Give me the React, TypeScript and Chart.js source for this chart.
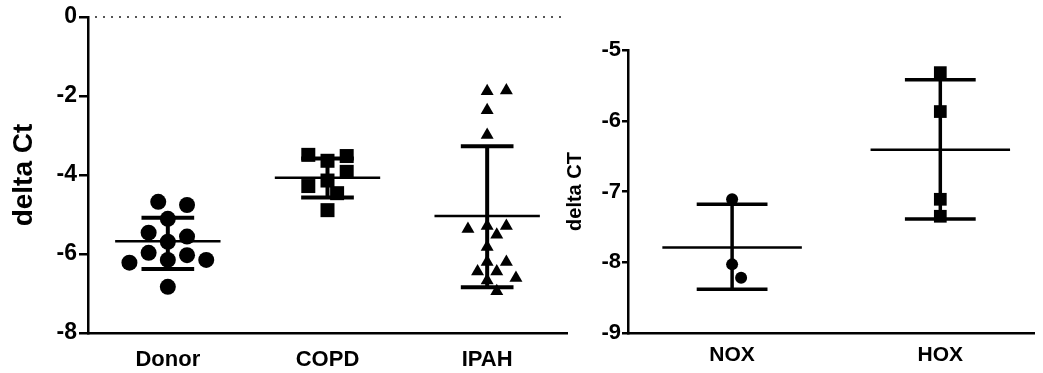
import React, { useEffect, useRef } from 'react';
import { Chart, registerables } from 'chart.js';

Chart.register(...registerables);

const FONT = "'Liberation Sans', Arial, Helvetica, sans-serif";

// ---------- Left panel data ----------
const leftCategories = ['Donor', 'COPD', 'IPAH'];
const donorValues = [-4.68, -4.76, -5.11, -5.46, -5.56, -5.69, -5.97, -6.03, -6.15, -6.15, -6.22, -6.83];
const copdValues = [-3.49, -3.52, -3.64, -3.92, -4.14, -4.28, -4.46, -4.89];
const ipahValues = [-1.86, -1.88, -2.36, -2.99, -5.29, -5.29, -5.37, -5.51, -5.82, -6.2, -6.2, -6.44, -6.44, -6.61, -6.67, -6.94];
const leftMeans = [-5.68, -4.07, -5.04];
const leftUpper = [-5.08, -3.58, -3.27];
const leftLower = [-6.38, -4.57, -6.84];
const leftYMin = -8;
const leftYMax = 0;
const leftYStep = 2;
const leftReferenceValue = 0;

// ---------- Right panel data ----------
const rightCategories = ['NOX', 'HOX'];
const noxValues = [-7.11, -8.03, -8.22];
const hoxValues = [-5.32, -5.87, -7.11, -7.35];
const rightMeans = [-7.79, -6.41];
const rightUpper = [-7.18, -5.42];
const rightLower = [-8.38, -7.39];
const rightYMin = -9;
const rightYMax = -5;
const rightYStep = 1;

type SummaryCfg = {
  means: number[];
  upper: number[];
  lower: number[];
  meanHalf: number;
  capHalf: number;
  meanWidth: number;
  stemWidth: number;
  capWidth: number;
  zero?: { value: number; startGap: number; dash: number[]; width: number; color: string };
};

function makeSummaryPlugin(cfg: SummaryCfg) {
  return {
    id: 'summaryBars',
    afterDatasetsDraw(chart: any) {
      const { ctx, chartArea } = chart;
      const x = chart.scales.x;
      const y = chart.scales.y;
      ctx.save();
      ctx.strokeStyle = '#000';
      ctx.lineCap = 'butt';
      if (cfg.zero) {
        const z = cfg.zero;
        const py = y.getPixelForValue(z.value);
        ctx.save();
        ctx.setLineDash(z.dash);
        ctx.lineWidth = z.width;
        ctx.strokeStyle = z.color;
        ctx.beginPath();
        ctx.moveTo(chartArea.left + z.startGap, py);
        ctx.lineTo(chartArea.right, py);
        ctx.stroke();
        ctx.restore();
      }
      const unit = x.getPixelForValue(1) - x.getPixelForValue(0);
      const line = (x1: number, y1: number, x2: number, y2: number, w: number) => {
        ctx.lineWidth = w;
        ctx.beginPath();
        ctx.moveTo(x1, y1);
        ctx.lineTo(x2, y2);
        ctx.stroke();
      };
      cfg.means.forEach((m, i) => {
        const cx = x.getPixelForValue(i);
        const mh = unit * cfg.meanHalf;
        const ch = unit * cfg.capHalf;
        const pm = y.getPixelForValue(m);
        const pu = y.getPixelForValue(cfg.upper[i]);
        const pl = y.getPixelForValue(cfg.lower[i]);
        line(cx - mh, pm, cx + mh, pm, cfg.meanWidth);
        line(cx, pu, cx, pl, cfg.stemWidth);
        line(cx - ch, pu, cx + ch, pu, cfg.capWidth);
        line(cx - ch, pl, cx + ch, pl, cfg.capWidth);
      });
      ctx.restore();
    },
  };
}

// simple beeswarm: points nearest the group mean are placed first, each at the
// nearest free lane that does not collide with already placed markers
function swarmOffsets(values: number[], center: number, yScale: any, collide: number, step: number): number[] {
  const order = values.map((_, i) => i).sort((a, b) => Math.abs(values[a] - center) - Math.abs(values[b] - center));
  const placed: { x: number; y: number }[] = [];
  const out = new Array(values.length).fill(0);
  for (const idx of order) {
    const py = yScale.getPixelForValue(values[idx]);
    let done = false;
    for (let k = 0; k < 60 && !done; k++) {
      const cands = k === 0 ? [0] : [k * step, -k * step];
      for (const c of cands) {
        if (placed.every((p) => Math.hypot(p.x - c, p.y - py) >= collide)) {
          out[idx] = c;
          placed.push({ x: c, y: py });
          done = true;
          break;
        }
      }
    }
  }
  return out;
}

type GroupSpec = { values: number[]; style: string; radius: number; collide: number; step: number };

function buildChart(
  canvas: HTMLCanvasElement,
  opts: {
    categories: string[];
    groups: GroupSpec[];
    means: number[];
    xMax: number;
    yMin: number;
    yMax: number;
    yStep: number;
    yTitle: string;
    titleSize: number;
    titlePad: number;
    tickSize: number;
    labelSize: number;
    labelPad: number;
    yAxisWidth: number;
    padTop: number;
    padRight: number;
    tickLen: number;
    tickPad: number;
    lineW: number;
    plugin: any;
  }
) {
  const datasets = opts.groups.map((g, i) => ({
    data: g.values.map((v) => ({ x: i, y: v })),
    pointStyle: g.style,
    pointRadius: g.radius,
    pointHoverRadius: g.radius,
    backgroundColor: '#000',
    borderColor: '#000',
    borderWidth: 0,
    showLine: false,
  }));
  const chart = new Chart(canvas, {
    type: 'scatter',
    data: { datasets },
    plugins: [opts.plugin],
    options: {
      animation: false,
      responsive: false,
      events: [],
      devicePixelRatio: 1,
      layout: { padding: { top: opts.padTop, right: opts.padRight, left: 0, bottom: 0 } },
      plugins: { legend: { display: false }, tooltip: { enabled: false } },
      scales: {
        x: {
          type: 'linear',
          min: -0.5,
          max: opts.xMax,
          afterBuildTicks: (scale: any) => {
            scale.ticks = opts.categories.map((_, i) => ({ value: i }));
          },
          afterFit: (scale: any) => {
            scale.height = 40;
            scale.paddingLeft = 0;
            scale.paddingRight = 0;
          },
          grid: { display: false, drawTicks: false },
          border: { display: true, color: '#000', width: opts.lineW },
          ticks: {
            autoSkip: false,
            maxRotation: 0,
            padding: opts.labelPad,
            color: '#000',
            font: { family: FONT, size: opts.labelSize, weight: 'bold' },
            callback: (value: any) => opts.categories[Math.round(value)] ?? '',
          },
        },
        y: {
          type: 'linear',
          min: opts.yMin,
          max: opts.yMax,
          afterFit: (scale: any) => {
            scale.width = opts.yAxisWidth;
            scale.paddingTop = 0;
            scale.paddingBottom = 0;
          },
          grid: {
            display: true,
            drawOnChartArea: false,
            drawTicks: true,
            tickLength: opts.tickLen,
            color: '#000',
            lineWidth: opts.lineW,
          },
          border: { display: true, color: '#000', width: opts.lineW },
          ticks: {
            stepSize: opts.yStep,
            padding: opts.tickPad,
            color: '#000',
            font: { family: FONT, size: opts.tickSize, weight: 'bold' },
          },
          title: {
            display: true,
            text: opts.yTitle,
            color: '#000',
            padding: { top: opts.titlePad, bottom: 0 },
            font: { family: FONT, size: opts.titleSize, weight: 'bold' },
          },
        },
      },
    } as any,
  });

  // second pass: spread overlapping markers horizontally using the laid-out scales
  const xs = chart.scales.x;
  const ys = chart.scales.y;
  const unit = xs.getPixelForValue(1) - xs.getPixelForValue(0);
  opts.groups.forEach((g, i) => {
    const offs = swarmOffsets(g.values, opts.means[i], ys, g.collide, g.step);
    (chart.data.datasets[i] as any).data = g.values.map((v, j) => ({ x: i + offs[j] / unit, y: v }));
  });
  chart.update('none');
  return chart;
}

export default function App() {
  const leftRef = useRef<HTMLCanvasElement>(null);
  const rightRef = useRef<HTMLCanvasElement>(null);

  useEffect(() => {
    if (!leftRef.current || !rightRef.current) return;
    const left = buildChart(leftRef.current, {
      categories: leftCategories,
      groups: [
        { values: donorValues, style: 'circle', radius: 8, collide: 17, step: 9.6 },
        { values: copdValues, style: 'rect', radius: 9.9, collide: 14.5, step: 9.6 },
        { values: ipahValues, style: 'triangle', radius: 7.5, collide: 12, step: 9.6 },
      ],
      means: leftMeans,
      xMax: 2.5,
      yMin: leftYMin,
      yMax: leftYMax,
      yStep: leftYStep,
      yTitle: 'delta Ct',
      titleSize: 28,
      titlePad: 7,
      tickSize: 23,
      labelSize: 22,
      labelPad: 14,
      yAxisWidth: 88,
      padTop: 17,
      padRight: 13,
      tickLen: 9,
      tickPad: 2,
      lineW: 2.5,
      plugin: makeSummaryPlugin({
        means: leftMeans,
        upper: leftUpper,
        lower: leftLower,
        meanHalf: 0.33,
        capHalf: 0.165,
        meanWidth: 2.5,
        stemWidth: 4,
        capWidth: 4,
        zero: { value: leftReferenceValue, startGap: 7, dash: [2, 6], width: 2, color: '#555' },
      }),
    });
    const right = buildChart(rightRef.current, {
      categories: rightCategories,
      groups: [
        { values: noxValues, style: 'circle', radius: 6, collide: 16, step: 9 },
        { values: hoxValues, style: 'rect', radius: 9, collide: 14, step: 9 },
      ],
      means: rightMeans,
      xMax: 1.45,
      yMin: rightYMin,
      yMax: rightYMax,
      yStep: rightYStep,
      yTitle: 'delta CT',
      titleSize: 20,
      titlePad: 3,
      tickSize: 22,
      labelSize: 21,
      labelPad: 10,
      yAxisWidth: 68,
      padTop: 50,
      padRight: 0,
      tickLen: 6,
      tickPad: 1,
      lineW: 2.5,
      plugin: makeSummaryPlugin({
        means: rightMeans,
        upper: rightUpper,
        lower: rightLower,
        meanHalf: 0.335,
        capHalf: 0.17,
        meanWidth: 2.5,
        stemWidth: 3.5,
        capWidth: 3.5,
      }),
    });
    return () => {
      left.destroy();
      right.destroy();
    };
  }, []);

  return (
    <div style={{ position: 'absolute', left: 0, top: 0, width: 1043, height: 373, overflow: 'hidden', background: '#fff' }}>
      <canvas ref={leftRef} width={580} height={373} style={{ position: 'absolute', left: 0, top: 0, width: 580, height: 373 }} />
      <canvas ref={rightRef} width={483} height={373} style={{ position: 'absolute', left: 560, top: 0, width: 483, height: 373 }} />
    </div>
  );
}
